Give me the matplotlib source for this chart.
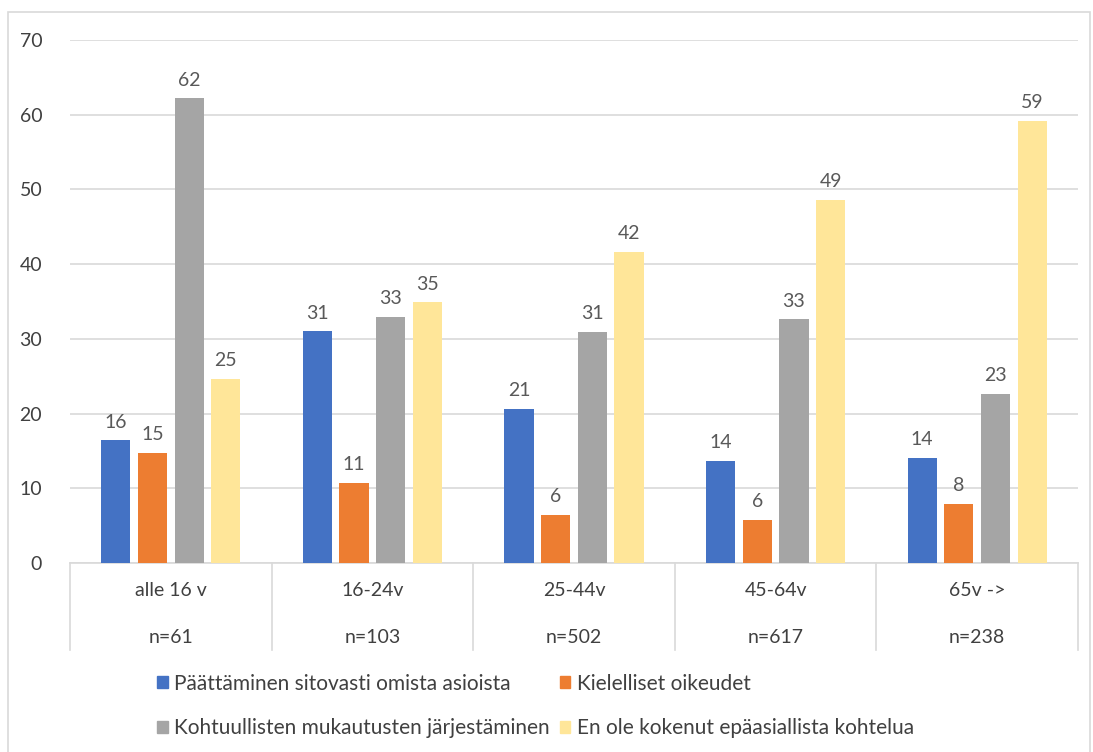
import matplotlib.pyplot as plt
from matplotlib.patches import Patch, Rectangle
from matplotlib.lines import Line2D
import numpy as np

plt.rcParams['font.family'] = ['Lato', 'DejaVu Sans']

groups = ['alle 16 v', '16-24v', '25-44v', '45-64v', '65v ->']
n_labels = ['n=61', 'n=103', 'n=502', 'n=617', 'n=238']
series = ['Päättäminen sitovasti omista asioista', 'Kielelliset oikeudet',
          'Kohtuullisten mukautusten järjestäminen', 'En ole kokenut epäasiallista kohtelua']
paattaminen = [16.4, 31.0, 20.6, 13.7, 14.1]
kielelliset = [14.7, 10.7, 6.4, 5.8, 7.95]
kohtuulliset = [62.2, 32.9, 30.9, 32.6, 22.6]
en_ole = [24.6, 34.9, 41.6, 48.6, 59.2]
colors = ['#4472C4', '#ED7D31', '#A5A5A5', '#FFE699']

W, H = 1093, 752
fs = 14
fig = plt.figure(figsize=(W / 100, H / 100), dpi=100)
ax = fig.add_axes([70 / W, 1 - 563 / H, (1078 - 70) / W, (563 - 40) / H])

# outer chart border
fig.add_artist(Rectangle((8 / W, -0.05), (1090 - 8) / W, 1 - 12 / H + 0.05,
                         transform=fig.transFigure, fill=False, edgecolor='#D9D9D9', lw=1.2))

x = np.arange(len(groups))
step = 0.182
width = 0.145
text_col = '#595959'
for i, vals in enumerate([paattaminen, kielelliset, kohtuulliset, en_ole]):
    pos = x + (i - 1.5) * step
    ax.bar(pos, vals, width, color=colors[i], zorder=3)
    for p, v in zip(pos, vals):
        ax.annotate('%.0f' % v, (p, v), xytext=(0, 7), textcoords='offset points',
                    ha='center', va='bottom', fontsize=fs, color=text_col)

ax.set_xlim(-0.5, len(groups) - 0.5)
ax.set_ylim(0, 70)
ax.set_yticks(range(0, 71, 10))
ax.tick_params(axis='y', length=0, pad=20, labelsize=fs, labelcolor='#404040')
ax.set_xticks([])
ax.grid(axis='y', color='#D9D9D9', lw=1.2, zorder=0)
for s in ['top', 'right', 'left']:
    ax.spines[s].set_visible(False)
ax.spines['bottom'].set_color('#D9D9D9')
ax.spines['bottom'].set_linewidth(1.2)

# category table below the axis
trans = ax.get_xaxis_transform()
for b in np.arange(-0.5, len(groups), 1.0):
    ax.add_line(Line2D([b, b], [0, -0.167], transform=trans, color='#D9D9D9',
                       lw=1.2, clip_on=False))
for i in range(len(groups)):
    ax.text(i, -0.052, groups[i], transform=trans, ha='center', va='center',
            fontsize=fs, color='#404040')
    ax.text(i, -0.142, n_labels[i], transform=trans, ha='center', va='center',
            fontsize=fs, color='#404040')

# legend fills column-wise, so reorder to get row-wise reading like the original
order = [0, 2, 1, 3]
handles = [Patch(color=colors[k]) for k in order]
labels = [series[k] for k in order]
fig.legend(handles, labels, ncol=2, loc='center', bbox_to_anchor=(0.49, 1 - 706 / H),
           frameon=False, fontsize=15, handlelength=0.5, handleheight=0.5,
           handletextpad=0.3, columnspacing=0.5, labelspacing=1.2, labelcolor='#404040')

fig.savefig('out.png', dpi=100)
